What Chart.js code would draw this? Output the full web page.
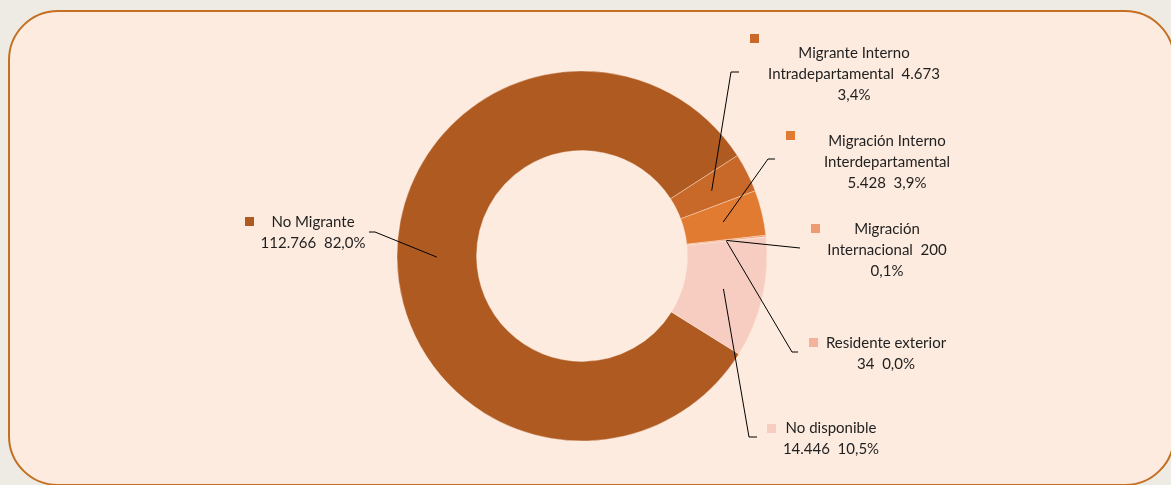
<!DOCTYPE html>
<html lang="es">
<head>
    <meta charset="UTF-8">
    <title>Condición de migración</title>
    <script src="https://cdn.jsdelivr.net/npm/chart.js"></script>
    <style>
        html, body { margin: 0; padding: 0; width: 1171px; height: 485px; overflow: hidden; background: #EEEBE5; }
        .panel {
            position: absolute; left: 8px; top: 10px; width: 1163px; height: 472px;
            border: 2px solid #C46F22; border-radius: 50px; background: #FDEBDF;
        }
        #migracionChart { position: absolute; left: 0; top: 0; }
    </style>
</head>
<body>
    <div class="panel"></div>
    <canvas id="migracionChart" width="1171" height="485"></canvas>

    <script>
        // categorías y personas por condición de migración
        const categorias = ['No Migrante', 'Migrante Interno Intradepartamental', 'Migración Interno Interdepartamental',
            'Migración Internacional', 'Residente exterior', 'No disponible'];
        const personas = [112766, 4673, 5428, 200, 34, 14446];
        const colores = ['#AE5A21', '#C8692A', '#E27B32', '#EE9B72', '#F3B29B', '#F7CDC1'];

        // ubicación de cada etiqueta: palabras por renglón, centro del texto, cuadro de color y guía
        const etiquetas = [
            { filas: [2, 2], cx: 313, y: 222, cuadro: [245, 217], codo: [375, 232], fin: [369, 232] },
            { filas: [2, 2, 1], cx: 854, y: 53, cuadro: [750, 34], codo: [731, 72], fin: [739, 72] },
            { filas: [2, 1, 2], cx: 887, y: 141, cuadro: [786, 131], codo: [768, 159], fin: [775, 159] },
            { filas: [1, 2, 1], cx: 887, y: 229, cuadro: [811, 224], codo: [800, 248], fin: [800, 248] },
            { filas: [2, 2], cx: 886, y: 343, cuadro: [809, 338], codo: [792, 352], fin: [798, 352] },
            { filas: [2, 2], cx: 831, y: 428, cuadro: [767, 424], codo: [749, 437], fin: [757, 437] }
        ];

        const total = personas.reduce((a, b) => a + b, 0);
        const miles = n => String(n).replace(/\B(?=(\d{3})+(?!\d))/g, '.');
        const porcentaje = n => (n / total * 100).toFixed(1).replace('.', ',') + '%';

        // arma los renglones: nombre, valor y porcentaje
        function renglones(i) {
            const piezas = categorias[i].split(' ').map(t => ({ t, nombre: true }));
            piezas.push({ t: miles(personas[i]) }, { t: porcentaje(personas[i]) });
            const out = [];
            let k = 0;
            for (const n of etiquetas[i].filas) {
                let s = '';
                for (let j = 0; j < n; j++, k++) {
                    if (j > 0) s += (piezas[k].nombre && piezas[k - 1].nombre) ? ' ' : '  ';
                    s += piezas[k].t;
                }
                out.push(s);
            }
            return out;
        }

        const etiquetasPlugin = {
            id: 'etiquetasGuia',
            afterDatasetsDraw(chart) {
                const ctx = chart.ctx;
                const arcos = chart.getDatasetMeta(0).data;
                ctx.save();
                arcos.forEach((arco, i) => {
                    const e = etiquetas[i];
                    const p = arco.getCenterPoint();
                    // línea guía
                    ctx.strokeStyle = '#000';
                    ctx.lineWidth = 1;
                    ctx.beginPath();
                    ctx.moveTo(p.x, p.y);
                    ctx.lineTo(e.codo[0], e.codo[1]);
                    ctx.lineTo(e.fin[0], e.fin[1]);
                    ctx.stroke();
                    // cuadro de color
                    ctx.fillStyle = colores[i];
                    ctx.fillRect(e.cuadro[0], e.cuadro[1], 9, 9);
                    // texto
                    ctx.fillStyle = '#1F1F1F';
                    ctx.font = '15px Lato';
                    ctx.textAlign = 'center';
                    ctx.textBaseline = 'middle';
                    renglones(i).forEach((s, r) => ctx.fillText(s, e.cx, e.y + r * 21));
                });
                ctx.restore();
            }
        };

        new Chart(document.getElementById('migracionChart'), {
            type: 'doughnut',
            data: {
                labels: categorias,
                datasets: [{
                    data: personas,
                    backgroundColor: colores,
                    borderColor: 'rgba(255, 236, 222, 0.4)',
                    borderWidth: 1
                }]
            },
            options: {
                responsive: false,
                animation: false,
                rotation: 122,
                cutout: '57%',
                layout: { padding: { left: 396.5, right: 403.5, top: 70.5, bottom: 43.5 } },
                plugins: {
                    legend: { display: false },
                    tooltip: { enabled: false }
                }
            },
            plugins: [etiquetasPlugin]
        });
    </script>
</body>
</html>
